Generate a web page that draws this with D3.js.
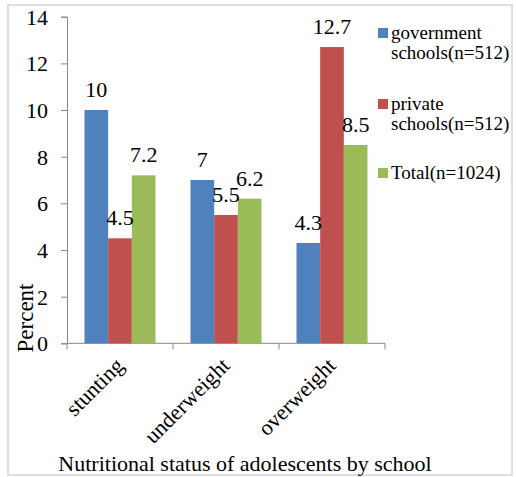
<!DOCTYPE html>
<html>
<head>
<meta charset="utf-8">
<script src="https://cdn.jsdelivr.net/npm/d3@7"></script>
<style>
  html, body { margin: 0; padding: 0; background: #fff; }
  svg { display: block; }
</style>
</head>
<body>
<svg id="chart" width="516" height="477"></svg>
<script>
// Nutritional status categories and the percentage per school type
const categories = ["stunting", "underweight", "overweight"];
const seriesNames = ["government schools(n=512)", "private schools(n=512)", "Total(n=1024)"];
const legendLines = [["government", "schools(n=512)"], ["private", "schools(n=512)"], ["Total(n=1024)"]];
const government = [10, 7, 4.3];
const privateSchools = [4.5, 5.5, 12.7];
const total = [7.2, 6.2, 8.5];
const yTicks = [0, 2, 4, 6, 8, 10, 12, 14];
const colors = ["#4F81BD", "#C0504D", "#9BBB59"];

const FONT = "'Liberation Serif', 'Times New Roman', serif";

const seriesValues = [government, privateSchools, total];
const rows = categories.map((c, i) => ({
  category: c,
  values: seriesNames.map((s, j) => ({ series: s, value: seriesValues[j][i], color: colors[j] }))
}));

const svg = d3.select("#chart");

// outer frame
svg.append("rect")
  .attr("x", 8).attr("y", 5).attr("width", 504).attr("height", 470)
  .attr("fill", "none").attr("stroke", "#d4d4d4").attr("stroke-width", 1.5);

const plot = { left: 67, right: 385, top: 16.7, bottom: 343.3 };

const y = d3.scaleLinear().domain([0, 14]).range([plot.bottom, plot.top]);
const x0 = d3.scaleBand().domain(categories).range([plot.left, plot.right]).paddingInner(0).paddingOuter(0);
const x1 = d3.scaleBand().domain(seriesNames).range([0, x0.bandwidth()]).paddingInner(0).paddingOuter(0.74);

// y axis
const yAxis = svg.append("g")
  .attr("transform", `translate(${plot.left},0)`)
  .call(d3.axisLeft(y).tickValues(yTicks).tickSize(6).tickPadding(13).tickFormat(d3.format("d")));
yAxis.attr("font-family", null).attr("font-size", null);
yAxis.selectAll("path, line").attr("stroke", "#878787");
yAxis.selectAll("text")
  .style("font-family", FONT).style("font-size", "22px")
  .attr("fill", "#000").attr("dy", "0.34em");

// x axis: ticks sit on category boundaries
svg.append("line")
  .attr("x1", plot.left).attr("x2", plot.right)
  .attr("y1", plot.bottom).attr("y2", plot.bottom)
  .attr("stroke", "#878787");
const boundaries = categories.map(c => x0(c)).concat([x0(categories[categories.length - 1]) + x0.bandwidth()]);
svg.selectAll("line.xtick").data(boundaries).join("line")
  .attr("class", "xtick")
  .attr("x1", d => d).attr("x2", d => d)
  .attr("y1", plot.bottom).attr("y2", plot.bottom + 6)
  .attr("stroke", "#878787");

// bars
const groups = svg.selectAll("g.group").data(rows).join("g")
  .attr("class", "group")
  .attr("transform", d => `translate(${x0(d.category)},0)`);

groups.selectAll("rect").data(d => d.values).join("rect")
  .attr("x", d => x1(d.series))
  .attr("y", d => y(d.value))
  .attr("width", x1.bandwidth())
  .attr("height", d => y(0) - y(d.value))
  .attr("fill", d => d.color);

// value labels
groups.selectAll("text.val").data(d => d.values).join("text")
  .attr("class", "val")
  .attr("x", d => x1(d.series) + x1.bandwidth() / 2)
  .attr("y", d => y(d.value) - 13)
  .attr("text-anchor", "middle")
  .style("font-family", FONT).style("font-size", "22px")
  .text(d => d.value);

// rotated category labels
svg.selectAll("text.cat").data(categories).join("text")
  .attr("class", "cat")
  .attr("text-anchor", "end")
  .attr("transform", d => `translate(${x0(d) + x0.bandwidth() / 2 + 5},367) rotate(-45)`)
  .style("font-family", FONT).style("font-size", "22px")
  .text(d => d);

// axis titles
svg.append("text")
  .attr("transform", "translate(33,318) rotate(-90)")
  .attr("text-anchor", "middle")
  .style("font-family", FONT).style("font-size", "23px")
  .text("Percent");

svg.append("text")
  .attr("x", 245).attr("y", 471)
  .attr("text-anchor", "middle")
  .style("font-family", FONT).style("font-size", "22px")
  .text("Nutritional status of adolescents by school");

// legend
const legendTops = [39, 110, 179];
const legend = svg.selectAll("g.legend").data(seriesNames).join("g")
  .attr("class", "legend")
  .attr("transform", (d, i) => `translate(378,${legendTops[i]})`);
legend.append("rect")
  .attr("x", 0).attr("y", -11).attr("width", 10).attr("height", 10)
  .attr("fill", (d, i) => colors[i]);
legend.append("text")
  .attr("x", 13).attr("y", 0)
  .style("font-family", FONT).style("font-size", "19px")
  .selectAll("tspan").data((d, i) => legendLines[i]).join("tspan")
  .attr("x", 13)
  .attr("dy", (d, k) => k === 0 ? 0 : 20)
  .text(d => d);
</script>
</body>
</html>
